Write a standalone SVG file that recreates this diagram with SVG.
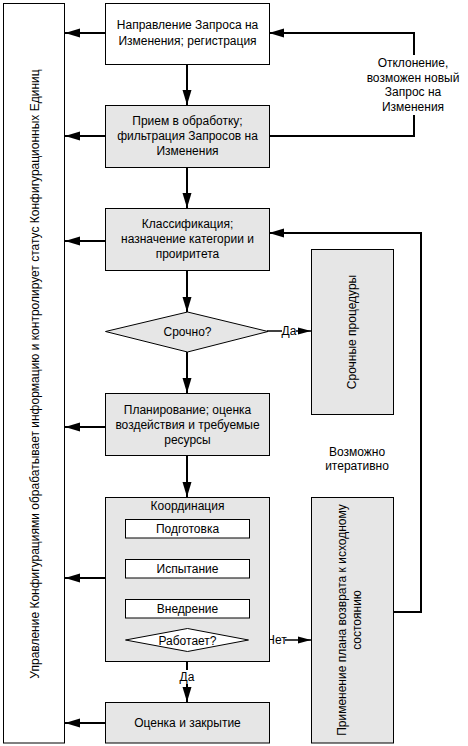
<svg xmlns="http://www.w3.org/2000/svg" width="468" height="746" viewBox="0 0 468 746">
<style>
text{font-family:"Liberation Sans",Arial,sans-serif;font-size:12px;fill:#000;text-anchor:middle}
.box{stroke:#000;stroke-width:1}
.w{fill:#fff}
.g{fill:#e6e6e6}
.c{fill:none;stroke:#000;stroke-width:2}
.t{fill:none;stroke:#000;stroke-width:1.5}
</style>
<defs>
<marker id="ah" markerUnits="userSpaceOnUse" markerWidth="15" markerHeight="10" refX="15" refY="5" orient="auto"><path d="M0,0.5 L15,5 L0,9.5 z" fill="#000"/></marker>
<marker id="as" markerUnits="userSpaceOnUse" markerWidth="13" markerHeight="8" refX="13" refY="4" orient="auto"><path d="M0,0.5 L13,4 L0,7.5 z" fill="#000"/></marker>
</defs>
<rect width="468" height="746" fill="#fff"/>

<g id="connectors">
<path class="c" marker-end="url(#ah)" d="M105,33 H65"/>
<path class="c" marker-end="url(#ah)" d="M105,136 H65"/>
<path class="c" marker-end="url(#ah)" d="M105,241 H65"/>
<path class="c" marker-end="url(#ah)" d="M105,427 H65"/>
<path class="c" marker-end="url(#ah)" d="M105,578 H65"/>
<path class="c" marker-end="url(#ah)" d="M105,723 H65"/>
<path class="c" marker-end="url(#ah)" d="M187,64 V105"/>
<path class="c" marker-end="url(#ah)" d="M187,167 V208"/>
<path class="c" marker-end="url(#ah)" d="M187,270 V312"/>
<path class="c" marker-end="url(#ah)" d="M187,352 V393"/>
<path class="c" marker-end="url(#ah)" d="M187,455 V497"/>
<path class="c" marker-end="url(#ah)" d="M187,651 V702"/>
<path class="c" d="M269,136 H414 V115"/>
<path class="c" marker-end="url(#ah)" d="M414,55 V33 H269"/>
<path class="c" marker-end="url(#ah)" d="M393,612 H421 V233 H269"/>
<path class="t" marker-end="url(#as)" d="M267,331 H311"/>
<path class="t" marker-end="url(#as)" d="M248,640 H311"/>
<rect x="282" y="324" width="14" height="14" fill="#fff"/>
<text x="289" y="335">Да</text>
<rect x="268" y="633" width="17" height="14" fill="#fff"/>
<text x="276.5" y="644">Нет</text>
<rect x="179" y="670" width="16" height="14" fill="#fff"/>
<text x="187" y="681">Да</text>
<text x="413" y="67">Отклонение,</text>
<text x="413" y="81.5">возможен новый</text>
<text x="413" y="96">Запрос на</text>
<text x="413" y="110.5">Изменения</text>
<text x="357" y="456">Возможно</text>
<text x="357" y="470">итеративно</text>
</g>

<g id="cm">
<rect class="box w" x="3.5" y="3.5" width="61" height="739.5"/>
<text transform="translate(39,374) rotate(-90)">Управление Конфигурациями обрабатывает информацию и контролирует статус Конфигурационных Единиц</text>
</g>

<g id="n1">
<rect class="box w" x="105.5" y="3.5" width="164" height="61"/>
<text x="187.5" y="29">Направление Запроса на</text>
<text x="187.5" y="44.5">Изменения; регистрация</text>
</g>

<g id="n2">
<rect class="box g" x="105.5" y="105.5" width="164" height="62"/>
<text x="187.5" y="125">Прием в обработку;</text>
<text x="187.5" y="140">фильтрация Запросов на</text>
<text x="187.5" y="155">Изменения</text>
</g>

<g id="n3">
<rect class="box g" x="105.5" y="208.5" width="164" height="62"/>
<text x="187.5" y="228">Классификация;</text>
<text x="187.5" y="243">назначение категории и</text>
<text x="187.5" y="258">проиритета</text>
</g>

<g id="d1">
<polygon class="box g" points="105.5,331.5 187.5,312 268,331.5 187.5,352"/>
<text x="187.5" y="336">Срочно?</text>
</g>

<g id="n_urgent">
<rect class="box g" x="311.5" y="249.5" width="82" height="165"/>
<text transform="translate(355.5,332) rotate(-90)">Срочные процедуры</text>
</g>

<g id="n4">
<rect class="box g" x="105.5" y="393.5" width="164" height="62"/>
<text x="187.5" y="414">Планирование; оценка</text>
<text x="187.5" y="429">воздействия и требуемые</text>
<text x="187.5" y="444">ресурсы</text>
</g>

<g id="n5">
<rect class="box g" x="105.5" y="497.5" width="164" height="164"/>
<text x="187.5" y="510">Координация</text>
<g id="n5a">
<rect class="box w" x="125.5" y="519.5" width="124" height="18.5"/>
<text x="187.5" y="533">Подготовка</text>
</g>
<g id="n5b">
<rect class="box w" x="125.5" y="559.5" width="124" height="18.5"/>
<text x="187.5" y="573">Испытание</text>
</g>
<g id="n5c">
<rect class="box w" x="125.5" y="599.5" width="124" height="18.5"/>
<text x="187.5" y="613">Внедрение</text>
</g>
<g id="d2">
<polygon class="box w" points="125.5,640 187.5,628.5 248.5,640 187.5,651.5"/>
<text x="187.5" y="644.5">Работает?</text>
</g>
</g>

<g id="n_rollback">
<rect class="box g" x="311.5" y="497.5" width="82" height="245.5"/>
<text transform="translate(345.5,620) rotate(-90)">Применение плана возврата к исходному</text>
<text transform="translate(360.5,620) rotate(-90)">состоянию</text>
</g>

<g id="n6">
<rect class="box g" x="105.5" y="702.5" width="164" height="40.5"/>
<text x="187.5" y="726.5">Оценка и закрытие</text>
</g>
</svg>
